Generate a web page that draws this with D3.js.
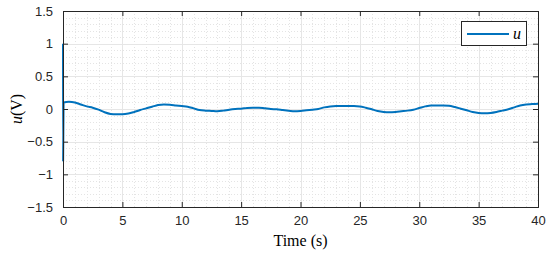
<!DOCTYPE html>
<html><head><meta charset="utf-8">
<script src="https://cdn.jsdelivr.net/npm/d3@7"></script>
<style>body{margin:0;background:#fff}</style>
</head><body><svg id="c" width="550" height="255"></svg>
<script>
const time = [0,0.01,0.05,0.5,1,1.5,2,2.5,3,3.5,4,4.5,5,5.5,6,6.5,7,7.5,8,8.5,9,9.5,10,10.5,11,11.5,12,12.5,13,13.5,14,14.5,15,15.5,16,16.5,17,17.5,18,18.5,19,19.5,20,20.5,21,21.5,22,22.5,23,23.5,24,24.5,25,25.5,26,26.5,27,27.5,28,28.5,29,29.5,30,30.5,31,31.5,32,32.5,33,33.5,34,34.5,35,35.5,36,36.5,37,37.5,38,38.5,39,39.5,40];
const u = [1.0,-0.8,0.1,0.11,0.1,0.07,0.04,0.02,-0.01,-0.05,-0.075,-0.08,-0.08,-0.07,-0.045,-0.015,0.01,0.035,0.06,0.07,0.065,0.055,0.045,0.035,0.01,-0.015,-0.025,-0.03,-0.035,-0.025,-0.01,0.0,0.005,0.015,0.02,0.02,0.01,0.0,-0.005,-0.015,-0.025,-0.035,-0.03,-0.02,-0.01,0.0,0.025,0.04,0.045,0.045,0.045,0.045,0.04,0.02,-0.005,-0.03,-0.045,-0.05,-0.045,-0.035,-0.025,-0.01,0.015,0.04,0.055,0.055,0.055,0.05,0.03,0.005,-0.02,-0.045,-0.06,-0.065,-0.06,-0.045,-0.025,-0.005,0.025,0.055,0.07,0.075,0.08];
const xTicks = [0,5,10,15,20,25,30,35,40];
const yTicks = [-1.5,-1,-0.5,0,0.5,1,1.5];
const seriesName = "u";

const svg = d3.select("#c");
const L=63, R=538, T=11, B=207;
const x = d3.scaleLinear().domain([0,40]).range([L,R]);
const y = d3.scaleLinear().domain([-1.5,1.5]).range([B,T]);
const axisColor = "#262626";

// minor grid
const xMinor = d3.range(0,40.001,1).filter(v=>v%5!==0);
const yMinor = d3.range(-15,15.001,1).map(v=>v/10).filter(v=>Math.abs((v*10)%5)>1e-6);
const g = svg.append("g");
g.selectAll(".xm").data(xMinor).enter().append("line")
 .attr("x1",d=>Math.round(x(d))+0.5).attr("x2",d=>Math.round(x(d))+0.5).attr("y1",T).attr("y2",B)
 .attr("stroke","#e4e4e4").attr("stroke-dasharray","1,2").attr("stroke-width",1);
g.selectAll(".ym").data(yMinor).enter().append("line")
 .attr("y1",d=>Math.round(y(d))+0.5).attr("y2",d=>Math.round(y(d))+0.5).attr("x1",L).attr("x2",R)
 .attr("stroke","#e4e4e4").attr("stroke-dasharray","1,2").attr("stroke-width",1);
// major grid
g.selectAll(".xg").data(xTicks).enter().append("line")
 .attr("x1",d=>Math.round(x(d))+0.5).attr("x2",d=>Math.round(x(d))+0.5).attr("y1",T).attr("y2",B)
 .attr("stroke","#e6e6e6").attr("stroke-width",1);
g.selectAll(".yg").data(yTicks).enter().append("line")
 .attr("y1",d=>Math.round(y(d))+0.5).attr("y2",d=>Math.round(y(d))+0.5).attr("x1",L).attr("x2",R)
 .attr("stroke","#e6e6e6").attr("stroke-width",1);

// line
const line = d3.line().x((d,i)=>x(time[i])).y(d=>y(d)).curve(d3.curveMonotoneX);
svg.append("path").datum(u).attr("d",line).attr("fill","none")
 .attr("stroke","#0072BD").attr("stroke-width",2).attr("stroke-linejoin","round");

// axes
const fmt = d=> (d<0? "\u2212"+Math.abs(d): ""+d);
const tickFont = "Liberation Sans, Arial, sans-serif";
const xa = svg.append("g").attr("transform",`translate(0,${B})`)
 .call(d3.axisBottom(x).tickValues(xTicks).tickSize(-5).tickPadding(9).tickFormat(fmt));
const xt = svg.append("g").attr("transform",`translate(0,${T})`)
 .call(d3.axisTop(x).tickValues(xTicks).tickSize(-5).tickFormat(""));
const ya = svg.append("g").attr("transform",`translate(${L},0)`)
 .call(d3.axisLeft(y).tickValues(yTicks).tickSize(-5).tickPadding(10).tickFormat(fmt));
const yr = svg.append("g").attr("transform",`translate(${R},0)`)
 .call(d3.axisRight(y).tickValues(yTicks).tickSize(-5).tickFormat(""));
[xa,xt,ya,yr].forEach(a=>{
  a.selectAll("path").attr("stroke",axisColor).attr("stroke-width",1);
  a.selectAll("line").attr("stroke",axisColor);
  a.selectAll("text").attr("fill",axisColor).style("font-family",tickFont).style("font-size","13px");
});

// labels
svg.append("text").attr("x",(L+R)/2).attr("y",246).attr("text-anchor","middle")
 .style("font-family","Liberation Serif, Times New Roman, serif").style("font-size","16px").attr("fill","#000")
 .text("Time (s)");
const yl = svg.append("text").attr("transform",`translate(22,${(T+B)/2}) rotate(-90)`).attr("text-anchor","middle")
 .style("font-family","Liberation Serif, Times New Roman, serif").style("font-size","16px").attr("fill","#000");
yl.append("tspan").style("font-style","italic").text("u");
yl.append("tspan").text("(V)");

// legend
const lg = svg.append("g");
lg.append("rect").attr("x",461.5).attr("y",21.5).attr("width",65).attr("height",24)
 .attr("fill","#fff").attr("stroke",axisColor).attr("stroke-width",1);
lg.append("line").attr("x1",467).attr("x2",509).attr("y1",34).attr("y2",34)
 .attr("stroke","#0072BD").attr("stroke-width",2);
lg.append("text").attr("x",513).attr("y",38.5).style("font-family","Liberation Serif, Times New Roman, serif")
 .style("font-style","italic").style("font-size","16px").text(seriesName);
</script></body></html>
